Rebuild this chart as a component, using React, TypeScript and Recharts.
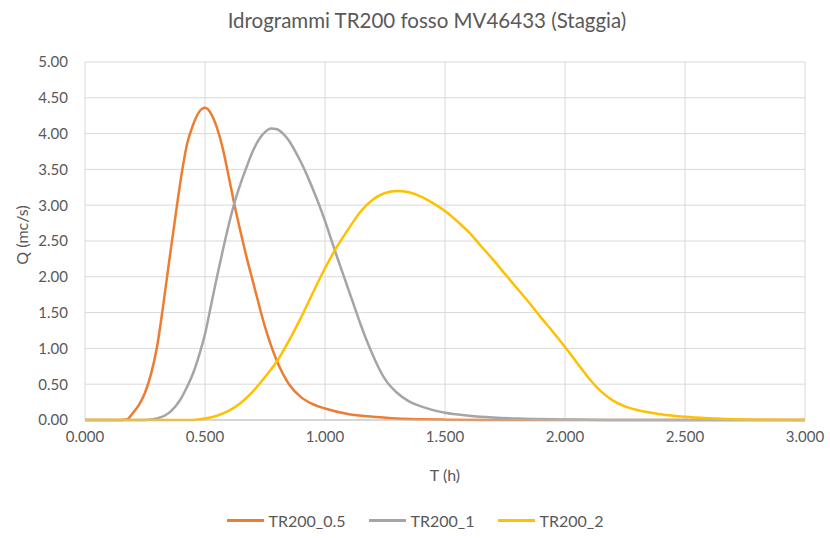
import { LineChart, Line, XAxis, YAxis, CartesianGrid } from 'recharts';

// TR200_0.5
const T_05 = [
  0, 0.15, 0.175, 0.2, 0.225, 0.25, 0.275, 0.3, 0.325, 0.35,
  0.375, 0.4, 0.425, 0.45, 0.475, 0.5, 0.525, 0.55, 0.575, 0.6,
  0.625, 0.65, 0.675, 0.7, 0.75, 0.8, 0.85, 0.9, 0.95, 1.0,
  1.1, 1.2, 1.3, 1.4, 1.5, 1.7, 2.0, 3.0,
];
const Q_05 = [
  0, 0, 0.01, 0.1, 0.21, 0.38, 0.64, 1.02, 1.58, 2.2,
  2.8, 3.38, 3.85, 4.12, 4.3, 4.36, 4.28, 4.08, 3.78, 3.38,
  2.97, 2.6, 2.25, 1.93, 1.3, 0.82, 0.5, 0.32, 0.22, 0.16,
  0.08, 0.045, 0.02, 0.01, 0.005, 0.001, 0, 0,
];

// TR200_1
const T_1 = [
  0, 0.25, 0.3, 0.35, 0.4, 0.425, 0.45, 0.475, 0.5, 0.525,
  0.55, 0.575, 0.6, 0.625, 0.65, 0.675, 0.7, 0.725, 0.75, 0.775,
  0.8, 0.825, 0.85, 0.875, 0.9, 0.925, 0.95, 0.975, 1.0, 1.025,
  1.05, 1.075, 1.1, 1.125, 1.15, 1.175, 1.2, 1.225, 1.25, 1.3,
  1.35, 1.4, 1.5, 1.6, 1.7, 1.8, 2.0, 2.2, 3.0,
];
const Q_1 = [
  0, 0, 0.02, 0.1, 0.3, 0.46, 0.65, 0.9, 1.2, 1.6,
  2.0, 2.38, 2.74, 3.06, 3.32, 3.55, 3.76, 3.92, 4.02, 4.07,
  4.06, 4.0, 3.9, 3.76, 3.6, 3.42, 3.22, 3.01, 2.78, 2.53,
  2.28, 2.04, 1.8, 1.56, 1.32, 1.1, 0.9, 0.72, 0.57, 0.38,
  0.26, 0.19, 0.1, 0.06, 0.035, 0.02, 0.008, 0, 0,
];

// TR200_2
const T_2 = [
  0, 0.45, 0.5, 0.55, 0.6, 0.65, 0.7, 0.75, 0.8, 0.85,
  0.9, 0.95, 1.0, 1.05, 1.1, 1.15, 1.2, 1.25, 1.3, 1.35,
  1.4, 1.45, 1.5, 1.55, 1.6, 1.65, 1.7, 1.75, 1.8, 1.85,
  1.9, 1.95, 2.0, 2.05, 2.1, 2.15, 2.2, 2.25, 2.3, 2.4,
  2.5, 2.6, 2.7, 2.8, 3.0,
];
const Q_2 = [
  0, 0, 0.02, 0.06, 0.13, 0.24, 0.4, 0.6, 0.82, 1.11,
  1.43, 1.78, 2.12, 2.42, 2.68, 2.92, 3.08, 3.17, 3.2, 3.18,
  3.12, 3.03, 2.92, 2.78, 2.62, 2.43, 2.24, 2.04, 1.84, 1.64,
  1.43, 1.23, 1.02, 0.8, 0.58, 0.4, 0.27, 0.19, 0.14, 0.08,
  0.045, 0.025, 0.012, 0.005, 0,
];

const X_TICKS = [0, 0.5, 1, 1.5, 2, 2.5, 3];
const Y_TICKS = [0, 0.5, 1, 1.5, 2, 2.5, 3, 3.5, 4, 4.5, 5];

const SERIES = [
  { name: 'TR200_0.5', t: T_05, q: Q_05, color: '#ED7D31' },
  { name: 'TR200_1', t: T_1, q: Q_1, color: '#A5A5A5' },
  { name: 'TR200_2', t: T_2, q: Q_2, color: '#FFC000' },
];

const FONT = 'Lato, "Open Sans", sans-serif';
const TEXT = '#595959';

export default function App() {
  return (
    <div
      style={{
        position: 'fixed',
        left: 0,
        top: 0,
        width: 830,
        height: 538,
        background: '#ffffff',
        fontFamily: FONT,
      }}
    >
      <div
        style={{
          position: 'absolute',
          top: 8,
          left: 12,
          width: 830,
          textAlign: 'center',
          fontSize: 20.5,
          color: TEXT,
        }}
      >
        Idrogrammi TR200 fosso MV46433 (Staggia)
      </div>
      <LineChart
        width={830}
        height={538}
        margin={{ top: 62, right: 25, bottom: 54, left: 10 }}
      >
        <CartesianGrid stroke="#d9d9d9" strokeWidth={1} />
        <XAxis
          dataKey="t"
          type="number"
          domain={[0, 3]}
          ticks={X_TICKS}
          allowDuplicatedCategory={false}
          tickFormatter={(v: number) => v.toFixed(3)}
          axisLine={{ stroke: '#bfbfbf' }}
          tickLine={false}
          tickSize={9}
          tick={{ fill: TEXT, fontSize: 15, fontFamily: FONT }}
          height={64}
          label={{
            value: 'T (h)',
            position: 'insideBottom',
            offset: 3,
            fill: TEXT,
            fontSize: 16,
            fontFamily: FONT,
          }}
        />
        <YAxis
          type="number"
          domain={[0, 5]}
          ticks={Y_TICKS}
          tickFormatter={(v: number) => v.toFixed(2)}
          axisLine={false}
          tickLine={false}
          tickSize={6}
          tickMargin={11}
          tick={{ fill: TEXT, fontSize: 15, fontFamily: FONT }}
          width={75}
          label={{
            value: 'Q (mc/s)',
            angle: -90,
            position: 'center',
            dx: -25,
            dy: -6,
            fill: TEXT,
            fontSize: 16,
            fontFamily: FONT,
          }}
        />
        {SERIES.map((s) => (
          <Line
            key={s.name}
            data={s.t.map((t, i) => ({ t, q: s.q[i] }))}
            dataKey="q"
            name={s.name}
            type="monotone"
            stroke={s.color}
            strokeWidth={2.5}
            dot={false}
            activeDot={false}
            isAnimationActive={false}
          />
        ))}
      </LineChart>
      <div
        style={{
          position: 'absolute',
          top: 511,
          width: 830,
          display: 'flex',
          justifyContent: 'center',
          gap: 23,
          fontSize: 16,
          color: TEXT,
        }}
      >
        {SERIES.map((s) => (
          <div key={s.name} style={{ display: 'flex', alignItems: 'center', gap: 5 }}>
            <span style={{ display: 'inline-block', width: 37, height: 3, background: s.color }} />
            <span>{s.name}</span>
          </div>
        ))}
      </div>
    </div>
  );
}
